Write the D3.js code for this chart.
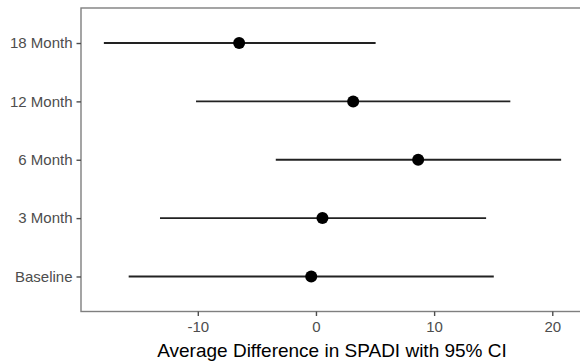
<!DOCTYPE html>
<html>
<head>
<meta charset="utf-8">
<script src="https://cdn.jsdelivr.net/npm/d3@7"></script>
<style>
  body { margin: 0; background: #fff; }
  svg { display: block; font-family: "Liberation Sans", Arial, sans-serif; }
  .tick text { fill: #4d4d4d; font-size: 15px; }
  .tick line { stroke: #4d4d4d; }
  .domain { display: none; }
</style>
</head>
<body>
<script>
const WIDTH = 580;
const HEIGHT = 363;

// timepoints, bottom to top
var categories = ["Baseline", "3 Month", "6 Month", "12 Month", "18 Month"];
var estimate = [-0.4, 0.55, 8.65, 3.15, -6.5];
var lower = [-15.85, -13.2, -3.4, -10.15, -17.95];
var upper = [15.05, 14.4, 20.75, 16.45, 5.05];
var xTicks = [-10, 0, 10, 20];

var panel = {left: 81, top: 8, right: 584, bottom: 311.5};

var translate = function(x, y) {
  return "translate(" + x + "," + y + ")";
};

// ggplot style 5% expansion
var lo = d3.min(lower), hi = d3.max(upper);
var pad = (hi - lo) * 0.05;

var xScale = d3.scaleLinear()
  .domain([lo - pad, hi + pad])
  .range([panel.left, panel.right]);

var yScale = d3.scaleLinear()
  .domain([0.4, categories.length + 0.6])
  .range([panel.bottom, panel.top]);

var svg = d3.select("body").append("svg")
  .attr("width", WIDTH)
  .attr("height", HEIGHT);

// panel border
svg.append("rect")
  .attr("x", panel.left)
  .attr("y", panel.top)
  .attr("width", panel.right - panel.left)
  .attr("height", panel.bottom - panel.top)
  .attr("fill", "none")
  .attr("stroke", "#7f7f7f")
  .attr("stroke-width", 1.4);

var xAxis = d3.axisBottom(xScale)
  .tickValues(xTicks)
  .tickFormat(function(d) { return String(d); })
  .tickSize(4.5).tickPadding(5);
var yAxis = d3.axisLeft(yScale)
  .tickValues(d3.range(1, categories.length + 1))
  .tickFormat(function(d) { return categories[d - 1]; })
  .tickSize(4.5).tickPadding(4);

svg.append("g")
  .attr("transform", translate(0, panel.bottom))
  .call(xAxis);

svg.append("g")
  .attr("transform", translate(panel.left, 0))
  .call(yAxis);

svg.selectAll(".tick line").attr("stroke-width", 1.4);

var rows = categories.map(function(c, i) {
  return {cat: c, i: i + 1, est: estimate[i], lo: lower[i], hi: upper[i]};
});

svg.append("g").selectAll("line")
  .data(rows)
  .enter()
  .append("line")
  .attr("x1", function(d) { return xScale(d.lo); })
  .attr("x2", function(d) { return xScale(d.hi); })
  .attr("y1", function(d) { return yScale(d.i); })
  .attr("y2", function(d) { return yScale(d.i); })
  .attr("stroke", "#222")
  .attr("stroke-width", 1.8);

svg.append("g").selectAll("circle")
  .data(rows)
  .enter()
  .append("circle")
  .attr("cx", function(d) { return xScale(d.est); })
  .attr("cy", function(d) { return yScale(d.i); })
  .attr("r", 6)
  .attr("fill", "#000");

svg.append("text")
  .attr("x", (panel.left + panel.right) / 2 - 0.5)
  .attr("y", 357)
  .attr("text-anchor", "middle")
  .attr("font-size", 19)
  .attr("fill", "#000")
  .text("Average Difference in SPADI with 95% CI");
</script>
</body>
</html>
